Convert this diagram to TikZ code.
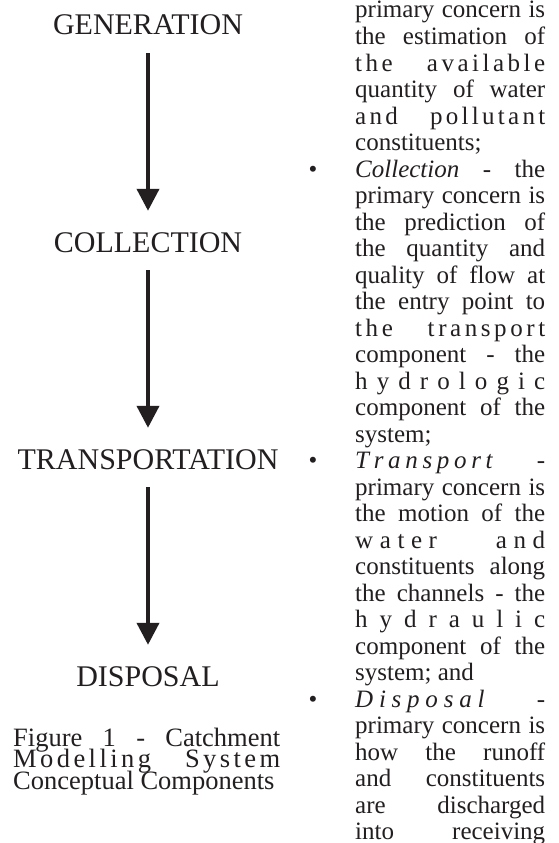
\documentclass[tikz,border=0pt]{standalone}
\usepackage{fontspec}
\setmainfont{Liberation Serif}
\usepackage{tikz}
\usetikzlibrary{arrows.meta,positioning}
\definecolor{ink}{RGB}{35,31,32}
\newlength{\colw}\setlength{\colw}{190pt}
\newlength{\capw}\setlength{\capw}{267pt}
\newcommand{\jl}[1]{\makebox[\colw][s]{#1}}
\newcommand{\jc}[1]{\makebox[\capw][s]{#1}}
\newcommand{\ls}{\hspace{0pt plus 1fil}}
\newcommand{\ws}{\hspace{0.25em plus 8fil}}

\begin{document}
\begin{tikzpicture}[x=1pt,y=-1pt,node distance=217pt,ink,
		stage/.style={font=\fontsize{30}{30}\selectfont,inner sep=0pt,text height=20pt,text depth=0pt},
		flow/.style={line width=4pt,-{Triangle[width=22pt,length=22pt]},shorten <=18pt,shorten >=21pt},
		textline/.style={anchor=base west,inner sep=0pt,font=\fontsize{25}{26.5}\selectfont},
		bulletmark/.style={anchor=base,inner sep=0pt,font=\fontsize{25}{26.5}\selectfont},
		capline/.style={anchor=base west,inner sep=0pt,font=\fontsize{26.5}{21.5}\selectfont}]

		\useasboundingbox (0,0) rectangle (559,843);
		\fill[white] (0,0) rectangle (559,843);
		\clip (0,0) rectangle (559,843);

		% stages
		\node[stage] (gen) at (148,25) {GENERATION};
		\node[stage] (col) [below of=gen] {COLLECTION};
		\node[stage] (trans) [below of=col] {TRANSPORTATION};
		\node[stage] (disp) [below of=trans] {DISPOSAL};

		\path[flow]
		(gen) edge (col)
		(col) edge (trans)
		(trans) edge (disp);

		% caption
		\node[capline] (cap1) at (13,746) {\jc{Figure 1 - Catchment}};
		\node[capline] (cap2) at (13,767.5) {\jc{M\ls o\ls d\ls e\ls l\ls l\ls i\ls n\ls g\ws S\ls y\ls s\ls t\ls e\ls m}};
		\node[capline] (cap3) at (13,789) {Conceptual Components};

		% text column
		\foreach \txt [count=\i] in {
			{\jl{primary concern is}},
			{\jl{the estimation of}},
			{\jl{t\ls h\ls e\ws a\ls v\ls a\ls i\ls l\ls a\ls b\ls l\ls e}},
			{\jl{quantity of water}},
			{\jl{a\ls n\ls d\ws p\ls o\ls l\ls l\ls u\ls t\ls a\ls n\ls t}},
			{constituents;},
			{\jl{\textit{Collection} - the}},
			{\jl{primary concern is}},
			{\jl{the prediction of}},
			{\jl{the quantity and}},
			{\jl{quality of flow at}},
			{\jl{the entry point to}},
			{\jl{t\ls h\ls e\ws t\ls r\ls a\ls n\ls s\ls p\ls o\ls r\ls t}},
			{\jl{component - the}},
			{\jl{h\ls y\ls d\ls r\ls o\ls l\ls o\ls g\ls i\ls c}},
			{\jl{component of the}},
			{system;},
			{\jl{\textit{T\ls r\ls a\ls n\ls s\ls p\ls o\ls r\ls t}\ws -}},
			{\jl{primary concern is}},
			{\jl{the motion of the}},
			{\jl{w\ls a\ls t\ls e\ls r\ws a\ls n\ls d}},
			{\jl{constituents along}},
			{\jl{the channels - the}},
			{\jl{h\ls y\ls d\ls r\ls a\ls u\ls l\ls i\ls c}},
			{\jl{component of the}},
			{system; and},
			{\jl{\textit{D\ls i\ls s\ls p\ls o\ls s\ls a\ls l}\ws -}},
			{\jl{primary concern is}},
			{\jl{how the runoff}},
			{\jl{and constituents}},
			{\jl{are discharged}},
			{\jl{into receiving}}}
		\node[textline] (line\i) at (355,{18+(\i-1)*26.5}) {\txt};

		% bullets
		\foreach \n in {7,18,27}
		\node[bulletmark] (dot\n) at (313,{18+(\n-1)*26.5}) {•};
	\end{tikzpicture}
\end{document}
